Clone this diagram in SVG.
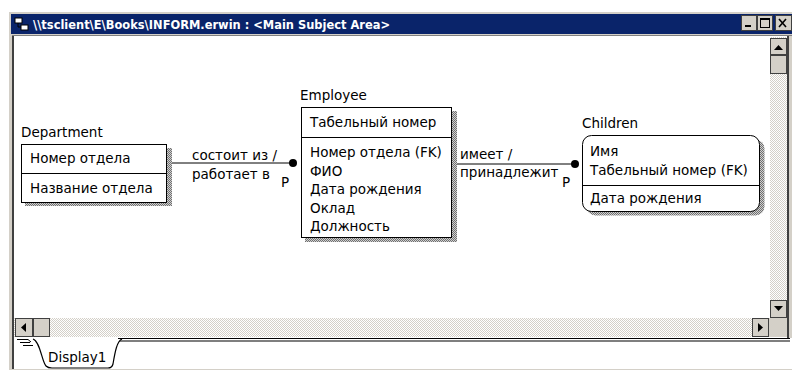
<svg xmlns="http://www.w3.org/2000/svg" width="792" height="371" viewBox="0 0 792 371">
<defs>
<pattern id="stip" width="2" height="2" patternUnits="userSpaceOnUse">
<rect width="2" height="2" fill="#ffffff"/>
<rect width="1" height="1" fill="#d4d0c8"/>
<rect x="1" y="1" width="1" height="1" fill="#d4d0c8"/>
</pattern>
<pattern id="shad" width="2" height="2" patternUnits="userSpaceOnUse">
<rect width="2" height="2" fill="#d0d0d0"/>
<rect width="1" height="1" fill="#707070"/>
<rect x="1" y="1" width="1" height="1" fill="#707070"/>
</pattern>
<style>
.t{font-family:"DejaVu Sans","Liberation Sans",Arial,sans-serif;font-size:13.5px;fill:#000}
.box{fill:#fff;stroke:#000;stroke-width:1}
.ln{stroke:#000;stroke-width:1;fill:none}
.btn{fill:#d4d0c8;stroke:#404040;stroke-width:1}
.sh{fill:url(#shad)}
</style>
</defs>
<rect width="792" height="371" fill="#ffffff"/>
<!-- window frame -->
<rect x="9" y="12" width="783" height="358" fill="#d4d0c8"/>
<rect x="11" y="14" width="781" height="20" fill="#0a246a"/>
<g id="titleicon">
<rect x="15" y="18" width="7" height="5" fill="#fff" stroke="#000" stroke-width="1"/>
<rect x="21" y="25" width="7" height="5" fill="#fff" stroke="#000" stroke-width="1"/>
<line x1="18" y1="23" x2="18" y2="27" stroke="#000"/>
<line x1="18" y1="27" x2="21" y2="27" stroke="#000"/>
</g>
<text x="33" y="29" style="font-family:'DejaVu Sans','Liberation Sans',sans-serif;font-size:11.5px;font-weight:bold;fill:#fff" textLength="357" lengthAdjust="spacingAndGlyphs">\\tsclient\E\Books\INFORM.erwin : &lt;Main Subject Area&gt;</text>
<g id="titlebuttons">
<rect x="741.5" y="15.5" width="15" height="15" class="btn"/>
<rect x="745" y="25" width="6" height="2" fill="#000"/>
<rect x="757.5" y="15.5" width="15" height="15" class="btn"/>
<rect x="760.5" y="18.5" width="9" height="9" fill="none" stroke="#000"/>
<line x1="760.5" y1="19.5" x2="769.5" y2="19.5" stroke="#000"/>
<rect x="775.5" y="15.5" width="16" height="15" class="btn"/>
<path d="M779 19 L786 27 M786 19 L779 27" stroke="#000" stroke-width="1.6"/>
</g>
<!-- canvas -->
<rect x="12" y="35" width="780" height="1" fill="#808080"/>
<rect x="12" y="36" width="2" height="333" fill="#404040"/>
<rect x="14" y="36" width="774" height="302" fill="#ffffff"/>
<rect x="787" y="36" width="2" height="305" fill="#404040"/>
<g id="vscroll">
<rect x="770" y="37" width="17" height="281" fill="url(#stip)"/>
<rect x="770.5" y="38.5" width="16" height="16" class="btn"/>
<path d="M774 50 L783 50 L778.5 45 Z" fill="#000"/>
<rect x="770.5" y="55.5" width="16" height="18" class="btn"/>
<rect x="770.5" y="300.5" width="16" height="17" class="btn"/>
<path d="M774 306 L783 306 L778.5 311 Z" fill="#000"/>
</g>
<g id="hscroll">
<rect x="14" y="318" width="756" height="19" fill="url(#stip)"/>
<rect x="15.5" y="318.5" width="17" height="18" class="btn"/>
<path d="M26 323 L26 332 L21 327.5 Z" fill="#000"/>
<rect x="33.5" y="318.5" width="16" height="18" class="btn"/>
<rect x="752.5" y="318.5" width="16" height="18" class="btn"/>
<path d="M758 323 L758 332 L763 327.5 Z" fill="#000"/>
<rect x="769" y="318" width="18" height="19" fill="#d4d0c8"/>
</g>
<!-- tab area -->
<rect x="14" y="338" width="778" height="31" fill="#ffffff"/>
<rect x="9" y="369" width="783" height="1" fill="#d4d0c8"/>
<rect x="12" y="337" width="2" height="32" fill="#404040"/>
<path d="M118 338.5 L790 338.5 M118 341 L790 341" stroke="#000" stroke-width="1.2"/>
<path d="M17 339.5 L28 339.5 L31 342 M20 342.5 L30 342.5 M23 345.5 L33 345.5" stroke="#000" stroke-width="1" fill="none"/>
<g id="tab">
<path d="M33 339 C40 341 42 362 46 366 Q48 368 52 368 L108 368 Q112 368 113 364 C115 352 117 341 122 339" fill="#fff" stroke="#000" stroke-width="1.2"/>
<text x="48" y="362" class="t">Display1</text>
</g>
<!-- connectors -->
<g id="connectors">
<line x1="172" y1="163" x2="293" y2="163" class="ln"/>
<circle cx="293" cy="163" r="4" fill="#000"/>
<line x1="457" y1="164" x2="575" y2="164" class="ln"/>
<circle cx="575" cy="164" r="4" fill="#000"/>
<text x="192" y="160" class="t">состоит из /</text>
<text x="192" y="179" class="t">работает в</text>
<text x="281" y="187" class="t">P</text>
<text x="460" y="159" class="t">имеет /</text>
<text x="460" y="177" class="t">принадлежит</text>
<text x="562" y="187" class="t">P</text>
</g>
<g id="department">
<text x="21" y="137" class="t">Department</text>
<rect x="167" y="148" width="5" height="58" class="sh"/>
<rect x="25" y="202" width="147" height="4" class="sh"/>
<rect x="21.5" y="144.5" width="145" height="58" class="box"/>
<line x1="21.5" y1="173.5" x2="166.5" y2="173.5" class="ln"/>
<text x="30" y="163" class="t">Номер отдела</text>
<text x="30" y="193" class="t">Название отдела</text>
</g>
<g id="employee">
<text x="300" y="100" class="t">Employee</text>
<rect x="452" y="111" width="5" height="131" class="sh"/>
<rect x="305" y="238" width="152" height="4" class="sh"/>
<rect x="301.5" y="107.5" width="150" height="130" class="box"/>
<line x1="301.5" y1="137.5" x2="451.5" y2="137.5" class="ln"/>
<text x="310" y="127" class="t">Табельный номер</text>
<text x="310" y="157" class="t">Номер отдела (FK)</text>
<text x="310" y="175.5" class="t">ФИО</text>
<text x="310" y="194" class="t">Дата рождения</text>
<text x="310" y="212.5" class="t">Оклад</text>
<text x="310" y="231" class="t">Должность</text>
</g>
<g id="children">
<text x="582" y="128" class="t">Children</text>
<rect x="586.5" y="139.5" width="178" height="76" rx="9" class="sh"/>
<rect x="582.5" y="135.5" width="177" height="76" rx="9" class="box"/>
<line x1="582.5" y1="185.5" x2="759.5" y2="185.5" class="ln"/>
<text x="590" y="156" class="t">Имя</text>
<text x="590" y="175" class="t">Табельный номер (FK)</text>
<text x="590" y="203" class="t">Дата рождения</text>
</g>
</svg>
